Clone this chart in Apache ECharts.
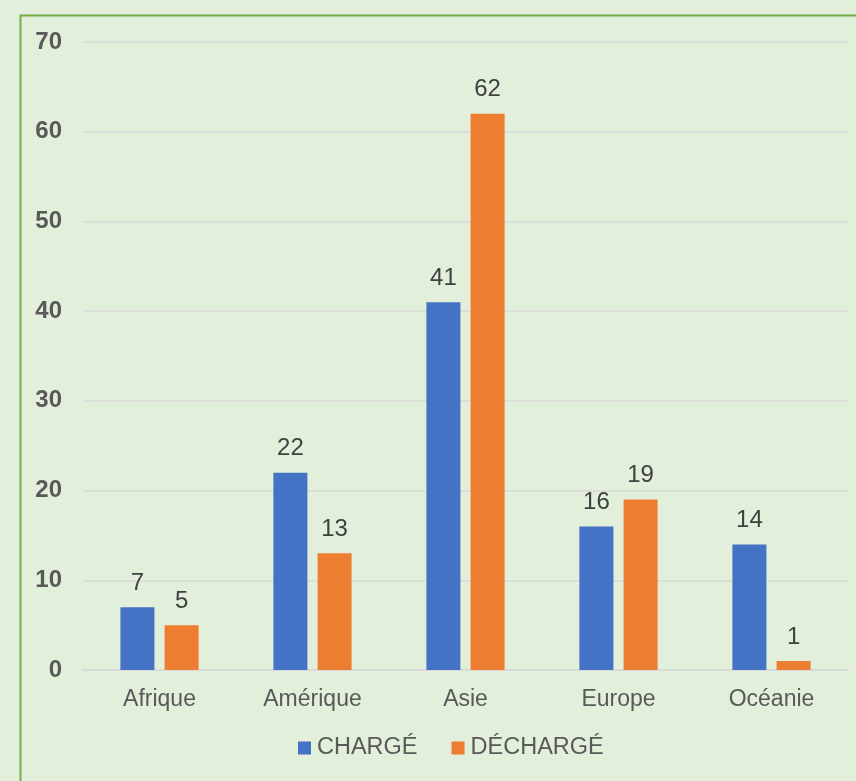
<!DOCTYPE html>
<html>
<head>
<meta charset="utf-8">
<script src="https://cdn.jsdelivr.net/npm/echarts@6/dist/echarts.min.js"></script>
<style>
html,body{margin:0;padding:0;background:#E2EFDA;}
#chart{width:856px;height:781px;}
</style>
</head>
<body>
<div id="chart"></div>
<script>
const categories = ['Afrique', 'Amérique', 'Asie', 'Europe', 'Océanie'];
const chargeValues = [7, 22, 41, 16, 14];
const dechargeValues = [5, 13, 62, 19, 1];
const seriesNames = ['CHARGÉ', 'DÉCHARGÉ'];

const FONT = 'Liberation Sans, Arial, sans-serif';
const chart = echarts.init(document.getElementById('chart'));
const labelStyle = {show: true, position: 'top', color: '#404040', fontSize: 24, fontFamily: FONT, distance: 12};
chart.setOption({
  backgroundColor: '#E2EFDA',
  animation: false,
  graphic: [{
    type: 'rect', left: 18, top: 13, z: -1,
    shape: {width: 860, height: 800},
    style: {fill: 'none', stroke: '#70AD47', lineWidth: 2}
  }],
  grid: {left: 83, right: 8, top: 42, bottom: 111, containLabel: false},
  legend: {
    data: seriesNames, top: 736, left: 298, padding: 0,
    itemWidth: 13, itemHeight: 13, itemGap: 34, icon: 'rect',
    textStyle: {color: '#595959', fontSize: 23.5, fontFamily: FONT, padding: [0, 0, 0, 1]}
  },
  xAxis: {
    type: 'category', data: categories,
    axisLine: {show: true, lineStyle: {color: '#D9D9D9', width: 2}},
    axisTick: {show: false},
    axisLabel: {color: '#595959', fontSize: 23, fontFamily: FONT, margin: 18}
  },
  yAxis: {
    type: 'value', min: 0, max: 70, interval: 10,
    axisLine: {show: false}, axisTick: {show: false},
    splitLine: {lineStyle: {color: '#D9D9D9', width: 1.5}},
    axisLabel: {color: '#595959', fontSize: 24, fontWeight: 'bold', fontFamily: FONT, margin: 21}
  },
  series: [
    {name: seriesNames[0], type: 'bar', data: chargeValues, barWidth: 34, barGap: '30%',
     itemStyle: {color: '#4472C4'}, label: labelStyle},
    {name: seriesNames[1], type: 'bar', data: dechargeValues, barWidth: 34,
     itemStyle: {color: '#ED7D31'}, label: labelStyle}
  ]
});
</script>
</body>
</html>
